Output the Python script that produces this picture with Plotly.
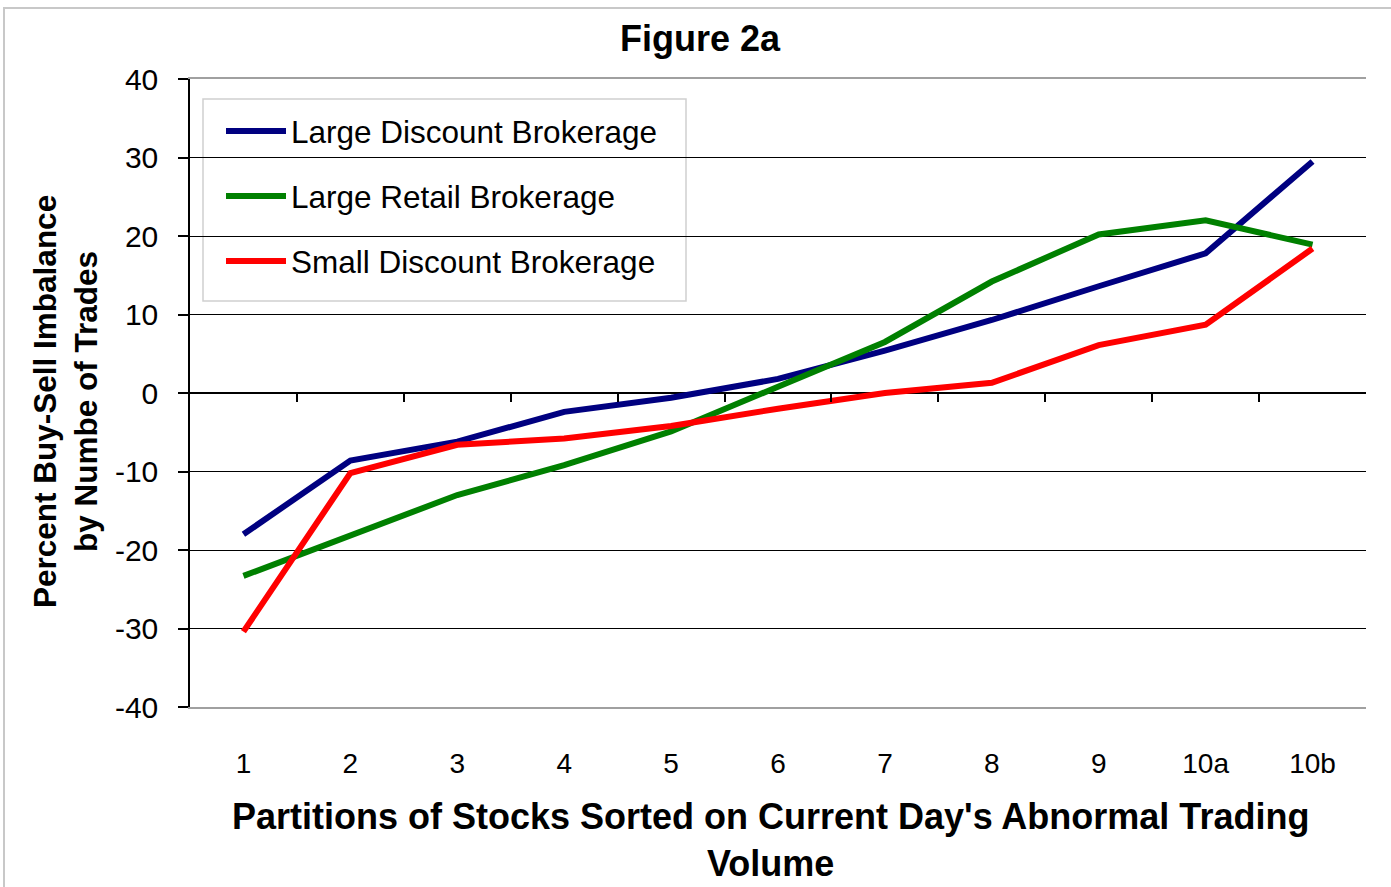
import plotly.graph_objects as go

categories = ["1", "2", "3", "4", "5", "6", "7", "8", "9", "10a", "10b"]
large_discount = [-18.0, -8.6, -6.2, -2.4, -0.6, 1.8, 5.4, 9.3, 13.6, 17.8, 29.5]
large_retail = [-23.3, -18.2, -13.0, -9.2, -4.9, 0.8, 6.5, 14.2, 20.2, 22.0, 18.9]
small_discount = [-30.4, -10.2, -6.6, -5.8, -4.2, -2.0, 0.0, 1.3, 6.1, 8.7, 18.4]
y_ticks = [-40, -30, -20, -10, 0, 10, 20, 30, 40]
y_tick_labels = ["-40", "-30", "-20", "-10", "0", "10", "20", "30", "40"]

series = [
    ("Large Discount Brokerage", large_discount, "#000080"),
    ("Large Retail Brokerage", large_retail, "#008000"),
    ("Small Discount Brokerage", small_discount, "#FF0000"),
]

FONT = "Liberation Sans, Arial, sans-serif"

fig = go.Figure()
for i, (name, vals, col) in enumerate(series):
    fig.add_trace(go.Scatter(
        x=categories, y=vals, name=name, mode="lines",
        line=dict(color=col, width=6),
        legendgroup=f"g{i}",
    ))

# pixel geometry of plot area
L, R, T, B = 190, 1366, 79, 707
W, H = 1391, 887
pw, ph = R - L, B - T

def px(xp):
    return (xp - L) / pw

def py(yp):
    return (B - yp) / ph

boundaries = [i + 0.5 for i in range(len(categories) - 1)]

fig.update_layout(
    width=W, height=H,
    margin=dict(l=L, r=W - R, t=T, b=H - B, pad=0),
    paper_bgcolor="white", plot_bgcolor="white",
    font=dict(family=FONT, color="black"),
    showlegend=True,
    title=dict(text="<b>Figure 2a</b>", x=700 / W, y=1 - 38 / H,
               xanchor="center", yanchor="middle",
               font=dict(size=36, family=FONT, color="black")),
    xaxis=dict(
        type="category", categoryorder="array", categoryarray=categories,
        range=[-0.5, len(categories) - 0.5],
        showgrid=False, zeroline=False,
        showline=True, linecolor="#A0A0A0", linewidth=2, mirror=True,
        ticks="", ticklabelstandoff=30,
        tickfont=dict(size=28, family=FONT, color="black"),
    ),
    xaxis2=dict(
        overlaying="x", anchor="free", position=py((T + B) / 2),
        range=[-0.5, len(categories) - 0.5],
        tickmode="array", tickvals=boundaries,
        showticklabels=False, ticks="outside", ticklen=8, tickwidth=1.5,
        tickcolor="black", showline=False, showgrid=False, zeroline=False,
    ),
    yaxis=dict(
        range=[-40, 40], tickmode="array", tickvals=y_ticks, ticktext=y_tick_labels,
        showgrid=True, gridcolor="black", gridwidth=1,
        zeroline=True, zerolinecolor="black", zerolinewidth=1.5,
        showline=True, linecolor="black", linewidth=1.5,
        ticks="outside", ticklen=10, tickwidth=1.5, tickcolor="black",
        ticklabelstandoff=14,
        tickfont=dict(size=30, family=FONT, color="black"),
    ),
    legend=dict(
        x=px(221), y=py(104), xanchor="left", yanchor="top",
        bgcolor="rgba(0,0,0,0)", borderwidth=0,
        font=dict(size=31.5, family=FONT, color="black"),
        tracegroupgap=21, itemwidth=60,
    ),
    annotations=[
        dict(text="<b>Percent Buy-Sell Imbalance<br>by Numbe of Trades</b>",
             x=px(65), y=py(402), xref="paper", yref="paper",
             textangle=-90, showarrow=False, xanchor="center", yanchor="middle",
             font=dict(size=31.5, family=FONT, color="black")),
        dict(text="<b>Partitions of Stocks Sorted on Current Day's Abnormal Trading<br>Volume</b>",
             x=px(770), y=py(840), xref="paper", yref="paper",
             showarrow=False, xanchor="center", yanchor="middle",
             font=dict(size=36, family=FONT, color="black")),
    ],
    shapes=[
        dict(type="rect", xref="paper", yref="paper",
             x0=px(4), x1=px(W + 10), y0=py(H + 10), y1=py(8),
             line=dict(color="#C8C8C8", width=2), layer="below"),
        # legend frame
        dict(type="rect", xref="paper", yref="paper",
             x0=px(203), x1=px(686), y0=py(301), y1=py(99),
             fillcolor="white", line=dict(color="#D0D0D0", width=1.5),
             layer="between"),
    ],
)

# invisible trace so the zero-line tick axis renders
fig.add_trace(go.Scatter(x=[], y=[], xaxis="x2", showlegend=False, hoverinfo="skip"))

fig.write_html("out.html", config={"displayModeBar": False},
               post_script="document.body.style.margin='0px';")
